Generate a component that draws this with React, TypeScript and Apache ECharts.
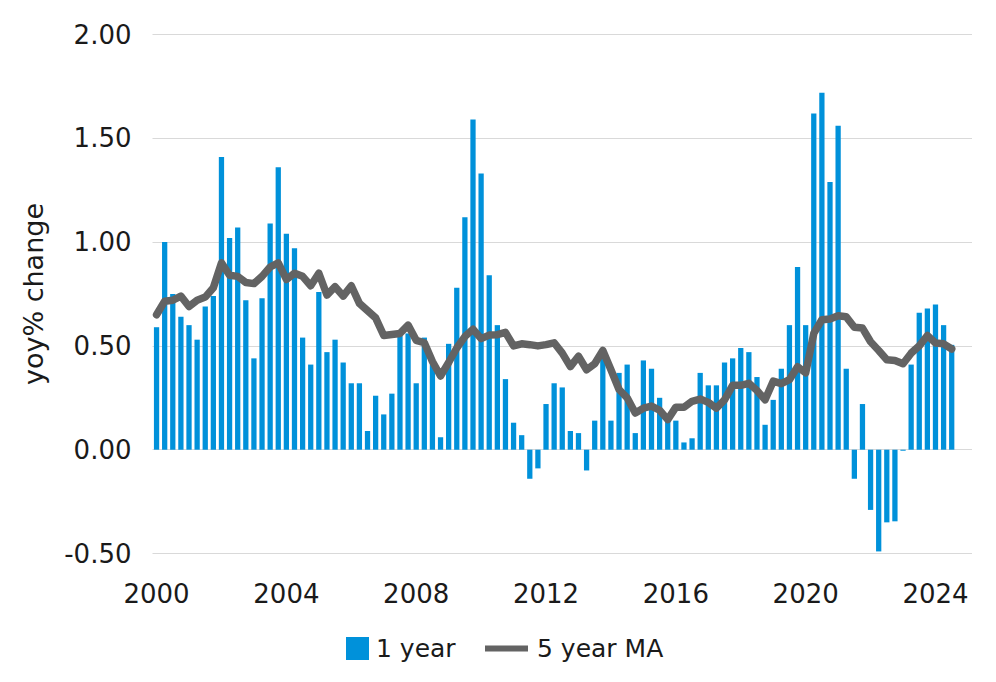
import React, { useEffect, useRef } from "react";
import * as echarts from "echarts";

// 2000Q1 .. 2025Q1 (last two quarters empty)
const years: number[] = [];
for (let y = 2000; y <= 2025; y++) years.push(y);
const categories: string[] = [];
years.forEach((y) => {
  for (let q = 1; q <= 4; q++) {
    if (categories.length < 101) categories.push(`${y}Q${q}`);
  }
});

const oneYear: number[] = [
  0.59, 1.0, 0.75, 0.64, 0.6, 0.53, 0.69, 0.74, 1.41, 1.02,
  1.07, 0.72, 0.44, 0.73, 1.09, 1.36, 1.04, 0.97, 0.54, 0.41,
  0.76, 0.47, 0.53, 0.42, 0.32, 0.32, 0.09, 0.26, 0.17, 0.27,
  0.55, 0.56, 0.32, 0.54, 0.43, 0.06, 0.51, 0.78, 1.12, 1.59,
  1.33, 0.84, 0.6, 0.34, 0.13, 0.07, -0.14, -0.09, 0.22, 0.32,
  0.3, 0.09, 0.08, -0.1, 0.14, 0.46, 0.14, 0.37, 0.41, 0.08,
  0.43, 0.39, 0.25, 0.16, 0.14, 0.035, 0.055, 0.37, 0.31, 0.31,
  0.42, 0.44, 0.49, 0.47, 0.35, 0.12, 0.24, 0.39, 0.6, 0.88,
  0.6, 1.62, 1.72, 1.29, 1.56, 0.39, -0.14, 0.22, -0.29, -0.49,
  -0.35, -0.345, -0.005, 0.41, 0.66, 0.68, 0.7, 0.6, 0.505,
];

const fiveYearMA: number[] = [
  0.65, 0.715, 0.72, 0.74, 0.69, 0.72, 0.735, 0.78, 0.9, 0.84,
  0.835, 0.805, 0.8, 0.835, 0.88, 0.9, 0.82, 0.85, 0.835, 0.79,
  0.85, 0.745, 0.785, 0.74, 0.79, 0.705, 0.67, 0.635, 0.55, 0.555,
  0.56, 0.6, 0.527, 0.515, 0.425, 0.355, 0.42, 0.49, 0.545, 0.58,
  0.535, 0.552, 0.554, 0.565, 0.5, 0.51, 0.506, 0.5, 0.506, 0.515,
  0.465, 0.4, 0.45, 0.385, 0.414, 0.478, 0.385, 0.29, 0.25, 0.177,
  0.2, 0.21, 0.19, 0.145, 0.205, 0.204, 0.233, 0.244, 0.228, 0.2,
  0.24, 0.31, 0.31, 0.32, 0.285, 0.24, 0.33, 0.318, 0.337, 0.4,
  0.37, 0.56, 0.626, 0.63, 0.645, 0.64, 0.59, 0.586, 0.52, 0.478,
  0.433, 0.43, 0.414, 0.465, 0.5, 0.55, 0.514, 0.51, 0.485,
];

const yTicks = { min: -0.5, max: 2.0, interval: 0.5 };
const FONT = "DejaVu Sans";
const TEXT = "#1a1a1a";

export default function App() {
  const ref = useRef<HTMLDivElement>(null);
  useEffect(() => {
    if (!ref.current) return;
    const chart = echarts.init(ref.current, undefined, { renderer: "svg" });
    chart.setOption({
      animation: false,
      textStyle: { fontFamily: FONT },
      grid: { left: 152.5, right: 24, top: 34.5, bottom: 128.5, containLabel: false },
      legend: [
        {
          data: ["1 year"],
          left: 341,
          top: 631,
          itemWidth: 23,
          itemHeight: 23,
          icon: "rect",
          textStyle: { fontFamily: FONT, fontSize: 25, color: TEXT, padding: [0, 0, 0, 2] },
        },
        {
          data: ["5 year MA"],
          left: 480,
          top: 631,
          itemWidth: 43,
          itemHeight: 6,
          icon: "rect",
          textStyle: { fontFamily: FONT, fontSize: 25, color: TEXT, padding: [0, 0, 0, 4] },
        },
      ],
      xAxis: {
        type: "category",
        data: categories,
        boundaryGap: true,
        axisLine: { show: false },
        axisTick: { show: false },
        splitLine: { show: false },
        axisLabel: {
          interval: 15,
          margin: 27,
          fontSize: 26,
          fontFamily: FONT,
          color: TEXT,
          formatter: (v: string) => v.slice(0, 4),
        },
      },
      yAxis: {
        type: "value",
        min: yTicks.min,
        max: yTicks.max,
        interval: yTicks.interval,
        name: "yoy% change",
        nameLocation: "middle",
        nameGap: 106,
        nameTextStyle: { fontFamily: FONT, fontSize: 27, color: TEXT },
        axisLine: { show: false },
        axisTick: { show: false },
        splitLine: { lineStyle: { color: "#d9d9d9", width: 1 } },
        axisLabel: {
          margin: 21,
          fontSize: 26,
          fontFamily: FONT,
          color: TEXT,
          padding: [8, 0, 0, 0],
          formatter: (v: number) => v.toFixed(2),
        },
      },
      series: [
        {
          name: "1 year",
          type: "bar",
          data: oneYear,
          barWidth: "65%",
          itemStyle: { color: "#0091da" },
          z: 2,
        },
        {
          name: "5 year MA",
          type: "line",
          data: fiveYearMA,
          symbol: "none",
          showSymbol: false,
          lineStyle: { color: "#636363", width: 7.5, join: "round", cap: "round" },
          itemStyle: { color: "#636363" },
          z: 3,
        },
      ],
    });
    return () => chart.dispose();
  }, []);
  return (
    <div style={{ position: "fixed", left: 0, top: 0, width: 996, height: 682, background: "#fff" }}>
      <div ref={ref} style={{ width: 996, height: 682 }} />
    </div>
  );
}
